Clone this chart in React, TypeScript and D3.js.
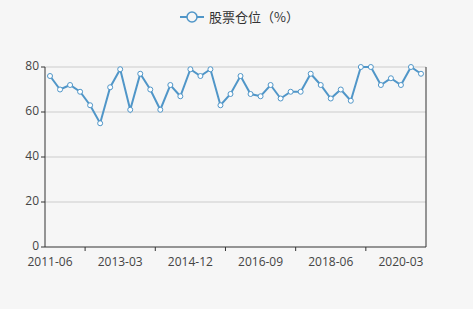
import React from "react";
import * as d3 from "d3";

const quarters: string[] = (() => {
  const out: string[] = [];
  const months = ["03", "06", "09", "12"];
  let y = 2011, q = 1;
  for (let i = 0; i < 38; i++) {
    out.push(`${y}-${months[q]}`);
    q++;
    if (q > 3) { q = 0; y++; }
  }
  return out;
})();

const positions: number[] = [
  76, 70, 72, 69, 63, 55, 71, 79, 61, 77,
  70, 61, 72, 67, 79, 76, 79, 63, 68, 76,
  68, 67, 72, 66, 69, 69, 77, 72, 66, 70,
  65, 80, 80, 72, 75, 72, 80, 77,
];

const xTickLabels = ["2011-06", "2013-03", "2014-12", "2016-09", "2018-06", "2020-03"];
const yTicks = [0, 20, 40, 60, 80];
const seriesName = "股票仓位（%）";

const W = 473, H = 309;
const left = 45, right = 426, top = 67, bottom = 247;
const FONT = "'Noto Sans CJK SC', 'Open Sans', sans-serif";
const NUMFONT = "'Open Sans', 'Noto Sans', sans-serif";
const COLOR = "#5096c8";

export default function App() {
  const x = d3.scaleBand<string>().domain(quarters).range([left, right]);
  const y = d3.scaleLinear().domain([0, 80]).range([bottom, top]);
  const cx = (d: string) => (x(d) as number) + x.bandwidth() / 2;
  const line = d3.line<number>().x((_, i) => cx(quarters[i])).y((v) => y(v));
  const tickIdx = quarters.map((_, i) => i).filter((i) => i % 7 === 4);

  return (
    <svg width={W} height={H} style={{ position: "absolute", left: 0, top: 0, background: "#f6f6f6" }}>
      <rect width={W} height={H} fill="#f6f6f6" />
      {/* legend */}
      <line x1={180} x2={204} y1={17} y2={17} stroke={COLOR} strokeWidth={2} />
      <circle cx={192} cy={17} r={5} fill="#f6f6f6" stroke={COLOR} strokeWidth={1.5} />
      <text x={209} y={22} fontSize={13} fill="#333" fontFamily={FONT}>{seriesName}</text>
      {/* grid */}
      {yTicks.filter((t) => t > 0).map((t) => (
        <line key={t} x1={left} x2={right} y1={y(t)} y2={y(t)} stroke="#cccccc" strokeWidth={1} />
      ))}
      {/* axes */}
      <line x1={left} x2={left} y1={top} y2={bottom} stroke="#333" strokeWidth={1} />
      <line x1={right} x2={right} y1={top} y2={bottom} stroke="#333" strokeWidth={1} />
      <line x1={left} x2={right} y1={bottom} y2={bottom} stroke="#333" strokeWidth={1} />
      {yTicks.map((t) => (
        <g key={t}>
          <line x1={left - 4} x2={left} y1={y(t)} y2={y(t)} stroke="#333" />
          <text x={left - 6} y={y(t) + 3} fontSize={12} fill="#444" textAnchor="end" fontFamily={NUMFONT}>{t}</text>
        </g>
      ))}
      {tickIdx.map((i) => (
        <line key={i} x1={x(quarters[i]) as number} x2={x(quarters[i]) as number} y1={bottom} y2={bottom + 4} stroke="#333" />
      ))}
      {xTickLabels.map((l) => (
        <text key={l} x={cx(l)} y={266} fontSize={12} fill="#444" textAnchor="middle" fontFamily={NUMFONT}>{l}</text>
      ))}
      {/* series */}
      <path d={line(positions) as string} fill="none" stroke={COLOR} strokeWidth={2} />
      {positions.map((v, i) => (
        <circle key={i} cx={cx(quarters[i])} cy={y(v)} r={2.5} fill="#ffffff" stroke={COLOR} strokeWidth={1} />
      ))}
    </svg>
  );
}
